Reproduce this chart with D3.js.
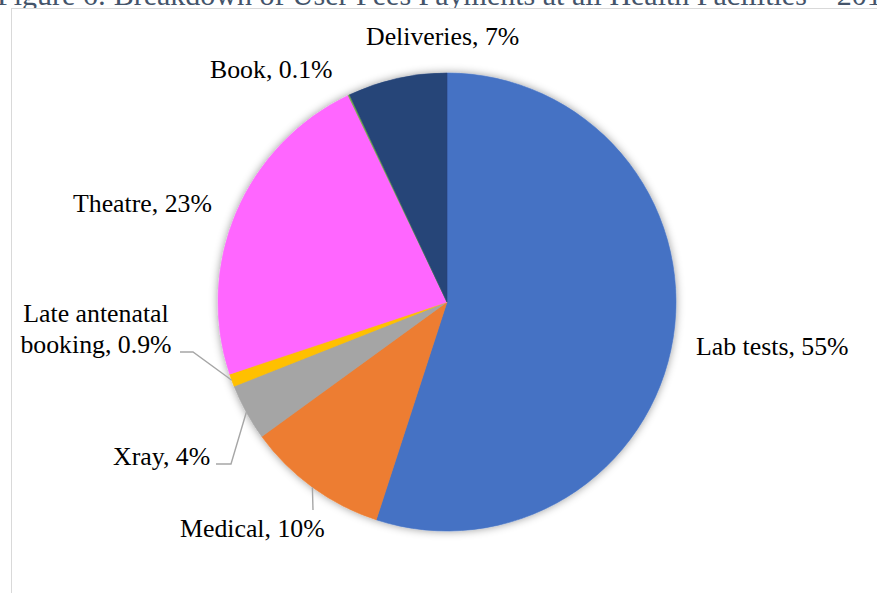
<!DOCTYPE html>
<html>
<head>
<meta charset="utf-8">
<script src="https://cdn.jsdelivr.net/npm/d3@7"></script>
<style>
  html, body { margin: 0; padding: 0; background: #fff; }
  svg { display: block; }
</style>
</head>
<body>
<svg id="chart" width="877" height="593"></svg>
<script>
// User fee payment categories, clockwise from 12 o'clock
const categories = ["Lab tests", "Medical", "Xray", "Late antenatal booking", "Theatre", "Book", "Deliveries"];
const shares = [55, 10, 4, 0.9, 23, 0.1, 7];
const labelTexts = ["Lab tests, 55%", "Medical, 10%", "Xray, 4%", "Late antenatal|booking, 0.9%", "Theatre, 23%", "Book, 0.1%", "Deliveries, 7%"];
const sliceColors = ["#4472C4", "#ED7D31", "#A5A5A5", "#FFC000", "#FF66FF", "#70AD47", "#264478"];
const titleText = "Figure 6: Breakdown of User Fees Payments at all Health Facilities \u2013 2016";

// Label placement (text anchor point) and optional leader-line elbow
const labelLayout = {
  "Lab tests":              { x: 696, y: 355, anchor: "start" },
  "Medical":                { x: 180, y: 537, anchor: "start", leader: [[313, 510]] },
  "Xray":                   { x: 113, y: 465, anchor: "start", leader: [[216, 464], [231, 464]] },
  "Late antenatal booking": { x: 96,  y: 322, anchor: "middle", leader: [[180, 352], [193, 352]] },
  "Theatre":                { x: 73,  y: 212, anchor: "start" },
  "Book":                   { x: 210, y: 78,  anchor: "start" },
  "Deliveries":             { x: 366, y: 45,  anchor: "start" }
};

const svg = d3.select("#chart");
const cx = 447, cy = 302, radius = 229;
const font = "'Liberation Serif', 'Times New Roman', serif";

// Caption above the chart frame (runs past the top and right edges)
svg.append("text")
  .attr("x", -3).attr("y", 5)
  .attr("font-family", font)
  .attr("font-size", 30)
  .attr("fill", "#44546A")
  .text(titleText);

// Chart frame
svg.append("rect")
  .attr("x", 11.5).attr("y", 8.5)
  .attr("width", 900).attr("height", 620)
  .attr("fill", "#fff")
  .attr("stroke", "#D9D9D9")
  .attr("stroke-width", 1);

const defs = svg.append("defs");
const shadow = defs.append("filter").attr("id", "pieShadow")
  .attr("x", "-10%").attr("y", "-10%").attr("width", "120%").attr("height", "120%");
shadow.append("feDropShadow")
  .attr("dx", 0).attr("dy", 0)
  .attr("stdDeviation", 4)
  .attr("flood-color", "#000")
  .attr("flood-opacity", 0.4);

const data = categories.map((c, i) => ({ name: c, value: shares[i], color: sliceColors[i], label: labelTexts[i] }));

const pie = d3.pie().sort(null).value(d => d.value).startAngle(0).endAngle(2 * Math.PI);
const arcs = pie(data);
const arc = d3.arc().innerRadius(0).outerRadius(radius);

const g = svg.append("g").attr("transform", `translate(${cx},${cy})`);

g.append("g").attr("filter", "url(#pieShadow)")
  .selectAll("path")
  .data(arcs)
  .join("path")
  .attr("d", arc)
  .attr("fill", d => d.data.color)
  .attr("stroke", d => d.data.color)
  .attr("stroke-width", 0.6);

// Leader lines from slice edge (mid-angle) to label
arcs.forEach(a => {
  const lay = labelLayout[a.data.name];
  if (!lay.leader) return;
  const mid = (a.startAngle + a.endAngle) / 2;
  const ex = cx + radius * Math.sin(mid);
  const ey = cy - radius * Math.cos(mid);
  const pts = [[ex, ey]].concat(lay.leader.slice().reverse());
  svg.append("path")
    .attr("d", d3.line()(pts))
    .attr("fill", "none")
    .attr("stroke", "#A6A6A6")
    .attr("stroke-width", 1.4);
});

// Data labels
arcs.forEach(a => {
  const lay = labelLayout[a.data.name];
  const lines = a.data.label.split("|");
  const t = svg.append("text")
    .attr("font-family", font)
    .attr("font-size", 25.8)
    .attr("fill", "#000")
    .attr("text-anchor", lay.anchor);
  lines.forEach((ln, i) => {
    t.append("tspan").attr("x", lay.x).attr("y", lay.y + i * 31).text(ln);
  });
});
</script>
</body>
</html>
